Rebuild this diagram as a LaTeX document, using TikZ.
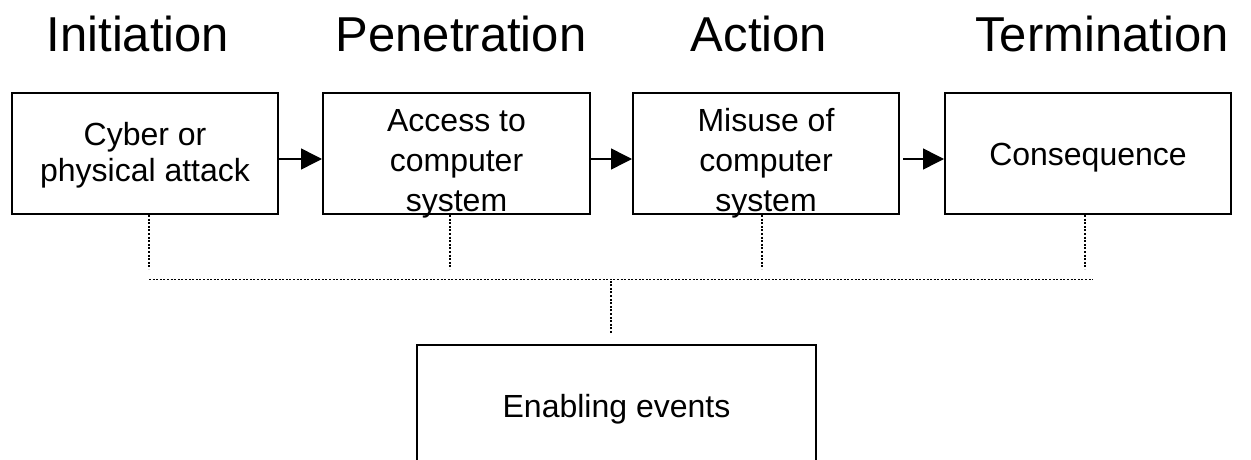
\documentclass[tikz,border=0pt]{standalone}
\usepackage{fontspec}
\setmainfont{Liberation Sans}
\usetikzlibrary{arrows.meta}

% text of a box, first baseline raised by #1 from the box centre
\newcommand\stagetext[2]{\raisebox{#1}[0pt][0pt]{\begin{tabular}[t]{@{}c@{}}#2\end{tabular}}}

\begin{document}
\begin{tikzpicture}[x=1pt,y=-1pt,
    phase/.style={anchor=base,inner sep=0pt,font=\fontsize{49}{58}\selectfont},
    stage/.style={draw,line width=2pt,inner sep=0pt,minimum height=121pt,
      font=\fontsize{32}{36}\selectfont},
    loose/.style={font=\fontsize{32}{40}\selectfont},
    flow/.style={line width=1.5pt,-{Triangle[length=21pt,width=21pt]}},
    dots/.style={line width=1.8pt,dash pattern=on 2pt off 1.6pt}]
  \useasboundingbox (0,0) rectangle (1251,460);

  \node[phase] (tInit) at (138,52) {Initiation};
  \node[phase] (tPen) at (461,52) {Penetration};
  \node[phase] (tAct) at (759,52) {Action};
  \node[phase] (tTerm) at (1102,52) {Termination};

  \node[stage,minimum width=266pt] (attack) at (145,153.5)
    {\stagetext{8.5pt}{Cyber or\\physical attack}};
  \node[stage,loose,minimum width=267pt] (access) at (456.5,153.5)
    {\stagetext{22pt}{Access to\\computer\\system}};
  \node[stage,loose,minimum width=266pt] (misuse) at (766,153.5)
    {\stagetext{22pt}{Misuse of\\computer\\system}};
  \node[stage,minimum width=286pt] (conseq) at (1088,153.5)
    {\stagetext{-11.5pt}{Consequence}};
  \node[stage,minimum width=399pt] (enabling) at (616.5,405.5)
    {\stagetext{-11.5pt}{Enabling events}};

  \draw[flow] ([yshift=-5.5pt]attack.east) -- ([yshift=-5.5pt]access.west);
  \draw[flow] ([yshift=-5.5pt]access.east) -- ([yshift=-5.5pt]misuse.west);
  \draw[flow] ([xshift=3pt,yshift=-5.5pt]misuse.east) -- ([yshift=-5.5pt]conseq.west);

  \coordinate (busL) at (149,279.5);
  \coordinate (busR) at (1093,279.5);
  \draw[dots] ([xshift=4pt]attack.south) -- ++(0,54);
  \draw[dots] ([xshift=-6.5pt]access.south) -- ++(0,54);
  \draw[dots] ([xshift=-4pt]misuse.south) -- ++(0,54);
  \draw[dots] ([xshift=-3pt]conseq.south) -- ++(0,54);
  \draw[dots] (busL) -- (busR);
  \draw[dots] ([xshift=-5.5pt,yshift=11pt]enabling.north) -- ([xshift=-5.5pt]enabling.north |- busL);
\end{tikzpicture}
\end{document}
